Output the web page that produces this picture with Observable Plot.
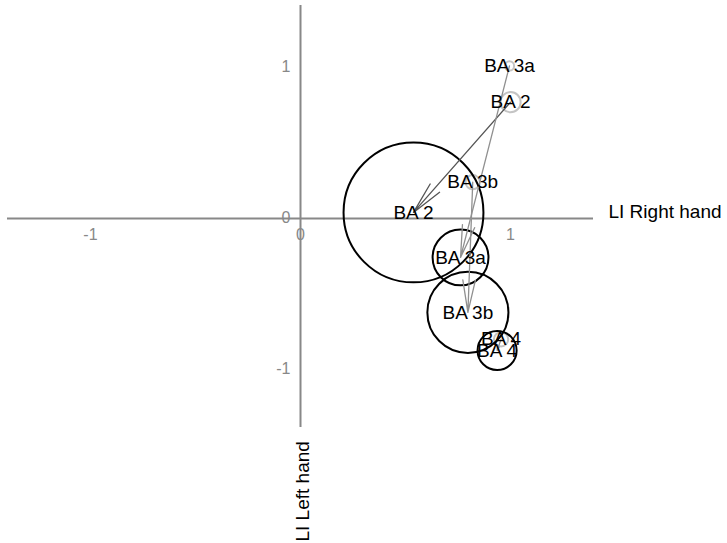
<!DOCTYPE html>
<html>
<head>
<meta charset="utf-8">
<script src="https://cdn.jsdelivr.net/npm/d3@7"></script>
<script src="https://cdn.jsdelivr.net/npm/@observablehq/plot@0.6"></script>
<style>
  html, body { margin: 0; padding: 0; background: #fff; overflow: hidden; }
  #chart svg { display: block; }
</style>
</head>
<body>
<div id="chart"></div>
<script>
// Laterality index (LI) per Brodmann area: right-hand task vs left-hand task.
const regions = ["BA 2", "BA 3a", "BA 3b", "BA 4"];

// Right-hand condition (grey circles): centre and spread
const rightX = [1.00, 0.995, 0.82, 0.955];
const rightY = [0.77, 1.01, 0.24, -0.80];
const rightSpread = [0.048, 0.022, 0.034, 0.034];

// Left-hand condition (black circles): centre and spread
const leftX = [0.538, 0.762, 0.797, 0.936];
const leftY = [0.04, -0.258, -0.622, -0.874];
const leftSpread = [0.333, 0.133, 0.193, 0.093];

const xTicks = [-1, 0, 1];
const yTicks = [1, 0, -1];
const xTitle = "LI Right hand";
const yTitle = "LI Left hand";

const right = regions.map((region, i) => ({region, x: rightX[i], y: rightY[i], s: rightSpread[i]}));
const left = regions.map((region, i) => ({region, x: leftX[i], y: leftY[i], s: leftSpread[i]}));
const shifts = regions.map((region, i) => ({
  region, x1: rightX[i], y1: rightY[i], x2: leftX[i], y2: leftY[i]
}));

const width = 727, height = 543;
const margin = {top: 5, right: 134, bottom: 116, left: 7};
const xDomain = [-1.395, 1.395];
const yDomain = [-1.384, 1.41];
// circle radii are in x units, so one unit of spread spans one unit of x
const pxPerUnit = (width - margin.left - margin.right) / (xDomain[1] - xDomain[0]);

const font = "'Liberation Sans', Arial, sans-serif";

const chart = Plot.plot({
  width, height,
  marginTop: margin.top, marginRight: margin.right,
  marginBottom: margin.bottom, marginLeft: margin.left,
  x: {domain: xDomain, axis: null},
  y: {domain: yDomain, axis: null},
  r: {type: "linear", domain: [0, 1], range: [0, pxPerUnit]},
  style: {fontFamily: font, background: "#fff", overflow: "visible"},
  marks: [
    // axes through the origin
    Plot.ruleY([0], {stroke: "#888", strokeWidth: 2}),
    Plot.ruleX([0], {stroke: "#888", strokeWidth: 2}),
    Plot.text(xTicks, {x: d => d, y: 0, text: d => String(d), dy: 16,
      fill: "#888", fontSize: 16}),
    Plot.text(yTicks, {x: 0, y: d => d, text: d => String(d), dx: -10, dy: -1,
      textAnchor: "end", fill: "#888", fontSize: 16}),
    Plot.text([xTitle], {x: xDomain[1], y: 0, text: d => d, dx: 15, dy: -7,
      textAnchor: "start", fill: "#000", fontSize: 19}),
    Plot.text([yTitle], {x: 0, y: yDomain[0], text: d => d, dx: 2, dy: 114,
      rotate: -90, textAnchor: "start", fill: "#000", fontSize: 19}),
    // spread circles
    Plot.dot(right, {x: "x", y: "y", r: "s", stroke: "#c4c4c4", strokeWidth: 2, fill: "none"}),
    Plot.dot(left, {x: "x", y: "y", r: "s", stroke: "#000", strokeWidth: 2, fill: "none"}),
    // shift from right-hand to left-hand condition
    Plot.arrow(shifts, {x1: "x1", y1: "y1", x2: "x2", y2: "y2",
      stroke: d => d.region === "BA 2" ? "#555" : "#909090",
      strokeWidth: 1.3, headLength: 38, headAngle: 22}),
    // region labels
    Plot.text(right, {x: "x", y: "y", text: "region", fill: "#000", fontSize: 19}),
    Plot.text(left, {x: "x", y: "y", text: "region", fill: "#000", fontSize: 19})
  ]
});

document.getElementById("chart").append(chart);
</script>
</body>
</html>
